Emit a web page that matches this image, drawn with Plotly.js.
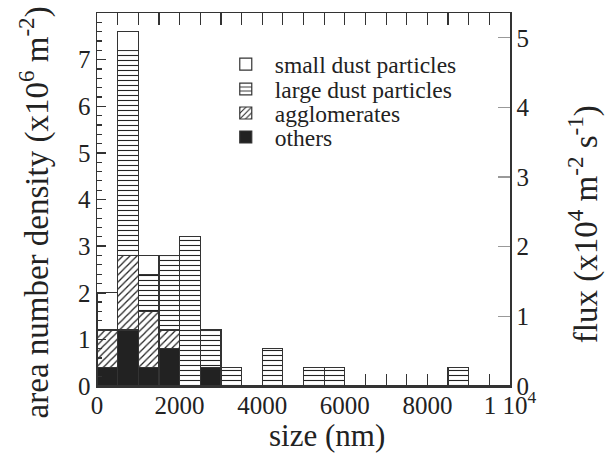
<!DOCTYPE html>
<html>
<head>
<meta charset="utf-8">
<script src="https://cdn.plot.ly/plotly-3.0.1.min.js"></script>
<style>
  html, body { margin: 0; padding: 0; background: #fff; }
  #chart { width: 610px; height: 454px; }
</style>
</head>
<body>
<div id="chart"></div>
<script>
// Bin centres (nm), bins 500 nm wide
const binCenters = [250, 750, 1250, 1750, 2250, 2750, 3250, 3750, 4250, 4750,
                    5250, 5750, 6250, 6750, 7250, 7750, 8250, 8750, 9250, 9750];
const binWidth = 500;
// Area number density (x10^6 m^-2) per category, stacked bottom to top
const others       = [0.4, 1.2, 0.4, 0.8, 0,   0.4, 0,   0, 0,   0, 0,   0,   0, 0, 0, 0, 0, 0,   0, 0];
const agglomerates = [0.8, 1.6, 1.2, 0.4, 0,   0,   0,   0, 0,   0, 0,   0,   0, 0, 0, 0, 0, 0,   0, 0];
const largeDust    = [0,   4.4, 0.8, 1.6, 3.2, 0.8, 0.4, 0, 0.8, 0, 0.4, 0.4, 0, 0, 0, 0, 0, 0.4, 0, 0];
const smallDust    = [0.8, 0.4, 0.4, 0,   0,   0,   0,   0, 0,   0, 0,   0,   0, 0, 0, 0, 0, 0,   0, 0];

const seriesNames = ['others', 'agglomerates', 'large dust particles', 'small dust particles'];

const xTickVals = [0,500,1000,1500,2000,2500,3000,3500,4000,4500,5000,5500,6000,6500,7000,7500,8000,8500,9000,9500,10000];
const xTickText = ['0','','','','2000','','','','4000','','','','6000','','','','8000','','','','1 10<sup>4</sup>'];

const serif = '"Liberation Serif", "Times New Roman", Times, serif';
const ink = '#222';
const outline = {color: '#333', width: 1.2};

function barTrace(name, y, marker, legendId) {
  return {
    type: 'bar', name: name, x: binCenters, y: y, width: binWidth,
    marker: Object.assign({line: outline}, marker),
    legend: legendId,
    hoverinfo: 'skip'
  };
}

const traces = [
  barTrace(seriesNames[0], others, {color: '#222'}, 'legend4'),
  barTrace(seriesNames[1], agglomerates, {color: '#fff',
    pattern: {shape: '/', fgcolor: '#222', bgcolor: '#fff', size: 5, solidity: 0.25}}, 'legend3'),
  barTrace(seriesNames[2], largeDust, {color: '#fff',
    pattern: {shape: '-', fgcolor: '#222', bgcolor: '#fff', size: 5, solidity: 0.22}}, 'legend2'),
  barTrace(seriesNames[3], smallDust, {color: '#fff'}, 'legend'),
  {type: 'scatter', x: [null], y: [null], yaxis: 'y2', showlegend: false, hoverinfo: 'skip'}
];

function legendAt(y) {
  return {
    x: 0.29, y: y, xanchor: 'left', yanchor: 'middle',
    font: {family: serif, size: 23.5, color: ink},
    bgcolor: 'rgba(0,0,0,0)', borderwidth: 0,
    itemwidth: 48
  };
}

const titleFont = {family: serif, size: 33, color: ink};

const layout = {
  width: 610, height: 454,
  margin: {l: 97, r: 100, t: 13, b: 68},
  paper_bgcolor: '#fff', plot_bgcolor: '#fff',
  font: {family: serif, color: ink, size: 24},
  barmode: 'stack',
  bargap: 0,
  showlegend: true,
  legend: legendAt(0.8626),
  legend2: legendAt(0.7956),
  legend3: legendAt(0.7313),
  legend4: legendAt(0.667),
  xaxis: {
    range: [0, 10000],
    tickmode: 'array', tickvals: xTickVals, ticktext: xTickText,
    ticks: 'inside', ticklen: 12, tickwidth: 1.2, tickcolor: '#333',
    ticklabelstandoff: -4,
    showline: true, linecolor: '#333', linewidth: 1.5, mirror: 'ticks',
    showgrid: false, zeroline: false,
    tickfont: {family: serif, size: 25, color: ink}
  },
  yaxis: {
    range: [0, 8],
    tickmode: 'linear', tick0: 0, dtick: 1,
    ticks: 'inside', ticklen: 9, tickwidth: 1.5, tickcolor: '#333',
    minor: {dtick: 0.2, ticks: 'inside', ticklen: 5, tickwidth: 1.2, tickcolor: '#333'},
    showline: true, linecolor: '#333', linewidth: 1.5,
    showgrid: false, zeroline: false,
    tickfont: {family: serif, size: 25, color: ink}
  },
  yaxis2: {
    overlaying: 'y', side: 'right', anchor: 'x',
    range: [0, 5.356],
    tickmode: 'linear', tick0: 0, dtick: 1,
    ticks: 'inside', ticklen: 12, tickwidth: 1.2, tickcolor: '#999',
    showline: true, linecolor: '#333', linewidth: 1.5,
    showgrid: false, zeroline: false,
    tickfont: {family: serif, size: 25, color: ink}
  },
  annotations: [
    {text: 'size (nm)', xref: 'paper', yref: 'paper', x: 0.5563, y: -0.132,
     xanchor: 'center', yanchor: 'middle', showarrow: false,
     font: {family: serif, size: 31, color: ink}},
    {text: 'area number density (x10<sup>6</sup> m<sup>-2</sup>)', xref: 'paper', yref: 'paper',
     x: -0.152, y: 0.466, xanchor: 'center', yanchor: 'middle', textangle: -90,
     showarrow: false, font: titleFont},
    {text: 'flux (x10<sup>4</sup> m<sup>-2</sup> s<sup>-1</sup>)', xref: 'paper', yref: 'paper',
     x: 1.1769, y: 0.434, xanchor: 'center', yanchor: 'middle', textangle: -90,
     showarrow: false, font: titleFont}
  ]
};

Plotly.newPlot('chart', traces, layout, {displayModeBar: false, staticPlot: true});
</script>
</body>
</html>
